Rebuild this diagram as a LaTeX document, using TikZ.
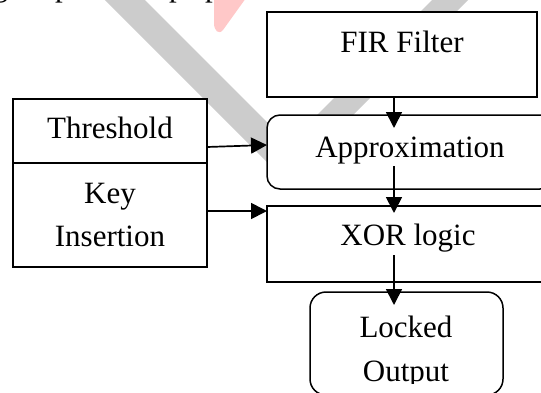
\documentclass[tikz,border=0pt]{standalone}
\usepackage{fontspec}
\setmainfont{Liberation Serif}
\usetikzlibrary{arrows.meta,calc}
\definecolor{wmgrey}{RGB}{204,204,204}
\definecolor{wmpink}{RGB}{255,200,200}
\begin{document}
\begin{tikzpicture}[x=1pt,y=-1pt,
  box/.style={draw=black, line width=1.5pt, fill=white, inner sep=0pt, outer sep=0pt},
  rbox/.style={box, rounded corners=13pt},
  lbl/.style={font=\fontsize{31}{43}\selectfont, inner sep=0pt, anchor=base},
  arr/.style={draw=black, line width=1.7pt, -{Triangle[length=16pt 0 0,width=16pt 0 0]}},
]
\useasboundingbox (0,0) rectangle (541,392);
\begin{scope}
\clip (0,0) rectangle (541,392);
% watermark
\fill[wmgrey] (95,-10) -- (135,-10) -- (288.5,143.5) -- (442,-10) -- (478,-10) -- (286.5,181.5) -- cycle;
\fill[wmpink] (214,-2) -- (246,-2) -- (223,30) .. controls (219,35) and (214,31) .. (214,23) -- cycle;
% clipped line of text above the figure
\node[lbl, anchor=base west] (fragg)  at (-7.5,-3.7) {g};
\node[lbl, anchor=base west] (fragp1) at (55,-3.7) {p};
\node[lbl, anchor=base west] (fragp2) at (169,-3.7) {p};
\node[lbl, anchor=base west] (fragp3) at (205,-3.7) {p};
% boxes
\node[box, minimum width=270pt, minimum height=85pt] (fir) at (402,54.5) {};
\node[rbox, minimum width=286pt, minimum height=74pt] (appr) at (410,152) {};
\node[box, minimum width=286pt, minimum height=76pt] (xor) at (410,244) {};
\node[rbox, rounded corners=16pt, minimum width=193pt, minimum height=103pt] (lock) at (406.5,343.5) {};
\node[box, minimum width=194pt, minimum height=64pt] (thr) at (110,131) {};
\node[box, minimum width=194pt, minimum height=104pt] (key) at (110,215) {};
% arrows
\draw[arr] ($(fir.south west)+(127,0)$) -- ($(appr.north west)+(127,13)$);
\draw[arr] ($(appr.north west)+(127,51)$) -- ($(xor.north west)+(127,7)$);
\draw[arr] ($(xor.north west)+(127,49)$) -- ($(lock.north west)+(84,13)$);
\draw[arr] ($(thr.south east)+(0,-16)$) -- ($(appr.west)+(0,-7)$);
\draw[arr] ($(key.north east)+(0,48)$) -- ($(xor.north west)+(0,5)$);
% labels
\node[lbl] (tfir) at (402,52) {FIR Filter};
\node[lbl] (tappr) at (410,157) {Approximation};
\node[lbl] (txor) at (408,245) {XOR logic};
\node[lbl] (tthr) at (110,138) {Threshold};
\node[lbl] (tkey1) at (110,203) {Key};
\node[lbl] (tkey2) at (110,246) {Insertion};
\node[lbl] (tlock1) at (406,337) {Locked};
\begin{scope}
\clip (300,350) rectangle (520,383);
\node[lbl] (tlock2) at (406,381) {Output};
\end{scope}
\end{scope}
\end{tikzpicture}
\end{document}
